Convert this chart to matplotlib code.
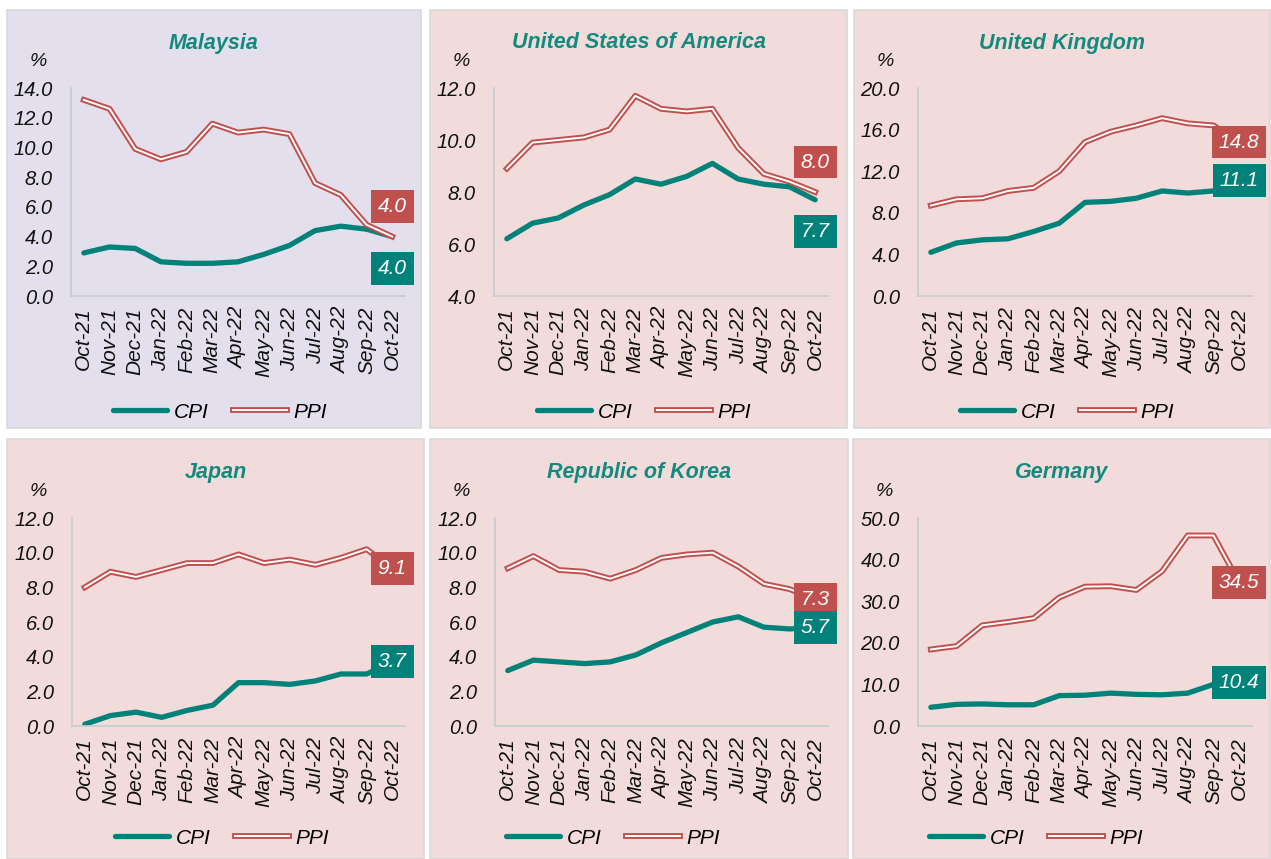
import matplotlib
matplotlib.use("Agg")
import matplotlib.pyplot as plt
from matplotlib.patches import Rectangle
import matplotlib.patheffects as pe

months = ["Oct-21", "Nov-21", "Dec-21", "Jan-22", "Feb-22", "Mar-22", "Apr-22",
          "May-22", "Jun-22", "Jul-22", "Aug-22", "Sep-22", "Oct-22"]

my_cpi = [2.9, 3.3, 3.2, 2.3, 2.2, 2.2, 2.3, 2.8, 3.4, 4.4, 4.7, 4.5, 4.0]
my_ppi = [13.2, 12.6, 9.9, 9.2, 9.7, 11.6, 11.0, 11.2, 10.9, 7.6, 6.8, 4.8, 4.0]
us_cpi = [6.2, 6.8, 7.0, 7.5, 7.9, 8.5, 8.3, 8.6, 9.1, 8.5, 8.3, 8.2, 7.7]
us_ppi = [8.9, 9.9, 10.0, 10.1, 10.4, 11.7, 11.2, 11.1, 11.2, 9.7, 8.7, 8.4, 8.0]
uk_cpi = [4.2, 5.1, 5.4, 5.5, 6.2, 7.0, 9.0, 9.1, 9.4, 10.1, 9.9, 10.1, 11.1]
uk_ppi = [8.7, 9.3, 9.4, 10.1, 10.4, 12.0, 14.8, 15.8, 16.4, 17.1, 16.6, 16.4, 14.8]
jp_cpi = [0.1, 0.6, 0.8, 0.5, 0.9, 1.2, 2.5, 2.5, 2.4, 2.6, 3.0, 3.0, 3.7]
jp_ppi = [8.0, 8.9, 8.6, 9.0, 9.4, 9.4, 9.9, 9.4, 9.6, 9.3, 9.7, 10.2, 9.1]
kr_cpi = [3.2, 3.8, 3.7, 3.6, 3.7, 4.1, 4.8, 5.4, 6.0, 6.3, 5.7, 5.6, 5.7]
kr_ppi = [9.1, 9.8, 9.0, 8.9, 8.5, 9.0, 9.7, 9.9, 10.0, 9.2, 8.2, 7.9, 7.3]
de_cpi = [4.5, 5.2, 5.3, 5.1, 5.1, 7.3, 7.4, 7.9, 7.6, 7.5, 7.9, 10.0, 10.4]
de_ppi = [18.4, 19.2, 24.2, 25.0, 25.9, 30.9, 33.5, 33.6, 32.7, 37.2, 45.8, 45.8, 34.5]

titles = ["Malaysia", "United States of America", "United Kingdom",
          "Japan", "Republic of Korea", "Germany"]

W, H = 1271, 859
TEAL = "#00827A"
RED = "#C0504D"
TITLE_C = "#138A7E"
FONT = "Liberation Sans"

fig = plt.figure(figsize=(W / 100, H / 100), dpi=100)
fig.patch.set_facecolor("white")

def frac_rect(l, t, r, b):
    return [l / W, 1 - b / H, (r - l) / W, (b - t) / H]

panels = [
    dict(title=titles[0], cpi=my_cpi, ppi=my_ppi, ylim=(0, 14), yt=[0, 2, 4, 6, 8, 10, 12, 14],
         bg="#E4DFEC", prect=(7, 10, 421, 428), arect=(71, 88, 405, 296),
         off=(30, -32), leg=(220, 412)),
    dict(title=titles[1], cpi=us_cpi, ppi=us_ppi, ylim=(4, 12), yt=[4, 6, 8, 10, 12],
         bg="#F2DCDB", prect=(430, 10, 847, 428), arect=(494, 88, 828, 296),
         off=(30, -32), leg=(644, 412)),
    dict(title=titles[2], cpi=uk_cpi, ppi=uk_ppi, ylim=(0, 20), yt=[0, 4, 8, 12, 16, 20],
         bg="#F2DCDB", prect=(854, 10, 1270, 428), arect=(918, 88, 1252, 296),
         off=(0, 0), leg=(1067, 412)),
    dict(title=titles[3], cpi=jp_cpi, ppi=jp_ppi, ylim=(0, 12), yt=[0, 2, 4, 6, 8, 10, 12],
         bg="#F2DCDB", prect=(7, 439, 424, 859), arect=(72, 518, 405, 726),
         off=(0, 0), leg=(222, 838)),
    dict(title=titles[4], cpi=kr_cpi, ppi=kr_ppi, ylim=(0, 12), yt=[0, 2, 4, 6, 8, 10, 12],
         bg="#F2DCDB", prect=(430, 439, 848, 859), arect=(495, 518, 828, 726),
         off=(0, 0), leg=(613, 838)),
    dict(title=titles[5], cpi=de_cpi, ppi=de_ppi, ylim=(0, 50), yt=[0, 10, 20, 30, 40, 50],
         bg="#F2DCDB", prect=(853, 439, 1270, 859), arect=(918, 518, 1252, 726),
         off=(0, 0), leg=(1036, 838)),
]

ppi_pe = [pe.Stroke(linewidth=4.2, foreground=RED), pe.Normal()]

for p in panels:
    l, t, r, b = p["prect"]
    fig.patches.append(Rectangle((l / W, 1 - b / H), (r - l) / W, (b - t) / H,
                                 transform=fig.transFigure, facecolor=p["bg"],
                                 edgecolor="#D9D9D9", linewidth=1.2, zorder=-5))
    ax = fig.add_axes(frac_rect(*p["arect"]))
    ax.set_zorder(2)
    ax.set_facecolor("none")
    x = list(range(len(months)))
    ax.plot(x, p["cpi"], color=TEAL, lw=3.8, solid_capstyle="round",
            solid_joinstyle="round", label="CPI", zorder=2)
    ax.plot(x, p["ppi"], color="white", lw=1.4, solid_joinstyle="round",
            path_effects=ppi_pe, label="PPI", zorder=2)
    ax.set_xlim(-0.5, len(months) - 0.5)
    ax.set_ylim(*p["ylim"])
    ax.set_yticks(p["yt"])
    ax.set_yticklabels([f"{v:.1f}" for v in p["yt"]], fontfamily=FONT,
                       fontstyle="italic", fontsize=14.5, color="#111111")
    ax.set_xticks(x)
    ax.set_xticklabels(months, rotation=90, fontfamily=FONT, fontstyle="italic",
                       fontsize=15, color="#111111")
    ax.tick_params(axis="both", length=0)
    ax.tick_params(axis="y", pad=13)
    ax.tick_params(axis="x", pad=8)
    for s in ["top", "right"]:
        ax.spines[s].set_visible(False)
    for s in ["left", "bottom"]:
        ax.spines[s].set_color("#C3CDCD")
        ax.spines[s].set_linewidth(1.2)

    cx = (l + r) / 2
    fig.text(cx / W, 1 - (t + 33) / H, p["title"], ha="center", va="center",
             fontfamily=FONT, fontweight="bold", fontstyle="italic",
             fontsize=15.5, color=TITLE_C, zorder=3)
    fig.text((l + 31) / W, 1 - (t + 52) / H, "%", ha="center", va="center",
             fontfamily=FONT, fontstyle="italic", fontsize=14, color="#111111", zorder=3)

    up, down = p["off"]
    ax.annotate(f"{p['ppi'][-1]:.1f}", xy=(12, p["ppi"][-1]), xytext=(0, up),
                textcoords="offset pixels", ha="center", va="center",
                fontfamily=FONT, fontstyle="italic", fontsize=15, color="white",
                bbox=dict(boxstyle="square,pad=0.33", facecolor=RED, edgecolor="none"),
                zorder=5, annotation_clip=False)
    ax.annotate(f"{p['cpi'][-1]:.1f}", xy=(12, p["cpi"][-1]), xytext=(0, down),
                textcoords="offset pixels", ha="center", va="center",
                fontfamily=FONT, fontstyle="italic", fontsize=15, color="white",
                bbox=dict(boxstyle="square,pad=0.33", facecolor=TEAL, edgecolor="none"),
                zorder=5, annotation_clip=False)

    lx, ly = p["leg"]
    ax.legend(loc="center", bbox_to_anchor=(lx / W, 1 - ly / H),
              bbox_transform=fig.transFigure, ncol=2, frameon=False,
              handlelength=2.6, handletextpad=0.3, columnspacing=1.2,
              prop=dict(family=FONT, style="italic", size=15))

fig.savefig("out.png", dpi=100, facecolor="white")
